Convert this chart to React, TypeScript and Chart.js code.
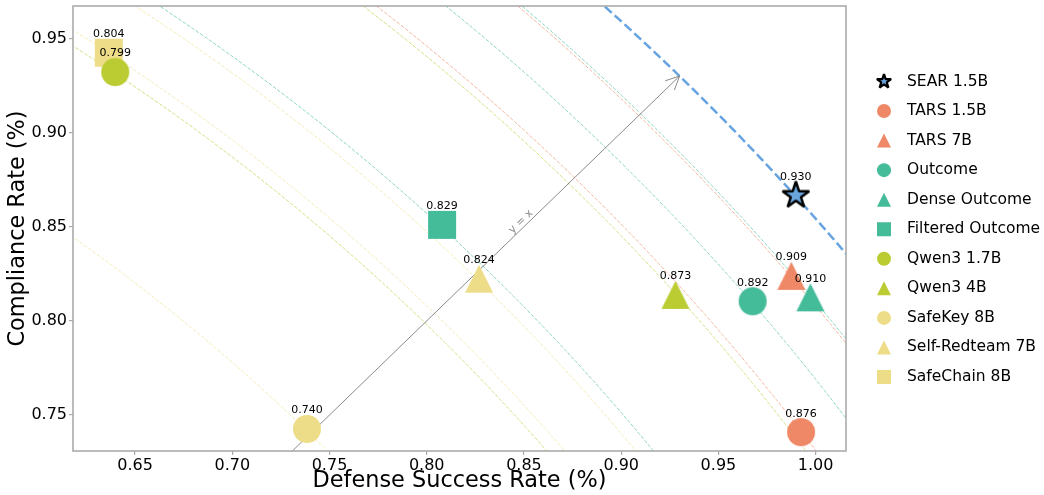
import React, { useEffect, useRef } from 'react';
import { Chart, registerables } from 'chart.js';

Chart.register(...registerables);

const modelNames = [
  'SEAR 1.5B', 'TARS 1.5B', 'TARS 7B', 'Outcome', 'Dense Outcome', 'Filtered Outcome',
  'Qwen3 1.7B', 'Qwen3 4B', 'SafeKey 8B', 'Self-Redteam 7B', 'SafeChain 8B',
];
const defenseRates = [0.9898, 0.9925, 0.9875, 0.9676, 0.9973, 0.8079, 0.6398, 0.9279, 0.7384, 0.8269, 0.6365];
const complianceRates = [0.8666, 0.7409, 0.8239, 0.8104, 0.8125, 0.851, 0.9321, 0.8138, 0.7426, 0.8224, 0.9424];
const scores = [0.930, 0.876, 0.909, 0.892, 0.910, 0.829, 0.799, 0.873, 0.740, 0.824, 0.804];
const markerShapes = ['star', 'circle', 'triangle', 'circle', 'triangle', 'square', 'circle', 'triangle', 'circle', 'triangle', 'square'];
const markerColors = ['#6AA6DE', '#EE8866', '#EE8866', '#44BB99', '#44BB99', '#44BB99', '#BBCC33', '#BBCC33', '#EEDD88', '#EEDD88', '#EEDD88'];
const xTicks = [0.65, 0.70, 0.75, 0.80, 0.85, 0.90, 0.95, 1.00];
const yTicks = [0.75, 0.80, 0.85, 0.90, 0.95];
const xRange = [0.6181, 1.0156];
const yRange = [0.7309, 0.9672];
const diagonalEnd = 0.93;

const FONT = 'DejaVu Sans';

function hexToRgba(hex: string, a: number) {
  const n = parseInt(hex.slice(1), 16);
  return `rgba(${(n >> 16) & 255},${(n >> 8) & 255},${n & 255},${a})`;
}

function drawMarker(ctx: CanvasRenderingContext2D, shape: string, cx: number, cy: number, size: number, fill: string, edgeW: number) {
  ctx.save();
  ctx.fillStyle = fill;
  ctx.beginPath();
  const h = size / 2;
  if (shape === 'circle') ctx.arc(cx, cy, h, 0, Math.PI * 2);
  else if (shape === 'square') ctx.rect(cx - h, cy - h, size, size);
  else if (shape === 'triangle') {
    ctx.moveTo(cx, cy - h);
    ctx.lineTo(cx + h, cy + h);
    ctx.lineTo(cx - h, cy + h);
    ctx.closePath();
  } else {
    const ri = h * 0.381966;
    for (let k = 0; k < 10; k++) {
      const r = k % 2 === 0 ? h : ri;
      const a = -Math.PI / 2 + (k * Math.PI) / 5;
      const px = cx + r * Math.cos(a);
      const py = cy + r * Math.sin(a);
      if (k === 0) ctx.moveTo(px, py);
      else ctx.lineTo(px, py);
    }
    ctx.closePath();
  }
  ctx.fill();
  if (shape === 'star') {
    ctx.lineWidth = edgeW;
    ctx.strokeStyle = '#000';
    ctx.lineJoin = 'bevel';
    ctx.stroke();
  }
  ctx.restore();
}

function makeImage(shape: string, size: number, fill: string, edgeW: number) {
  const c = document.createElement('canvas');
  const w = Math.ceil((size + edgeW * 2 + 4) / 2) * 2;
  c.width = w;
  c.height = w;
  const ctx = c.getContext('2d')!;
  drawMarker(ctx, shape, w / 2, w / 2, size, fill, edgeW);
  return c;
}

const overlayPlugin = {
  id: 'overlay',
  beforeDatasetsDraw(chart: any) {
    const { ctx, chartArea: ca, scales } = chart;
    const xs = scales.x;
    const ys = scales.y;
    ctx.save();
    ctx.beginPath();
    ctx.rect(ca.left, ca.top, ca.right - ca.left, ca.bottom - ca.top);
    ctx.clip();
    // iso-score curves
    const order = [...scores.keys()].filter((i) => i !== 0).concat([0]);
    for (const i of order) {
      const r2 = 2 * scores[i] * scores[i];
      ctx.beginPath();
      let started = false;
      for (let px = ca.left - 2; px <= ca.right + 2; px += 1) {
        const xv = xs.getValueForPixel(px);
        const y2 = r2 - xv * xv;
        if (y2 < 0) continue;
        const py = ys.getPixelForValue(Math.sqrt(y2));
        if (!started) { ctx.moveTo(px, py); started = true; } else ctx.lineTo(px, py);
      }
      if (i === 0) {
        ctx.strokeStyle = 'rgba(94,158,222,0.95)';
        ctx.lineWidth = 2.5;
        ctx.setLineDash([9.25, 4]);
      } else {
        ctx.strokeStyle = hexToRgba(markerColors[i], 0.6);
        ctx.lineWidth = 1;
        ctx.setLineDash([3.7, 1.6]);
      }
      ctx.stroke();
    }
    ctx.setLineDash([]);
    // y = x arrow
    const x0 = xs.getPixelForValue(0.70);
    const y0 = ys.getPixelForValue(0.70);
    const x1 = xs.getPixelForValue(diagonalEnd);
    const y1 = ys.getPixelForValue(diagonalEnd);
    ctx.strokeStyle = 'rgba(125,125,125,0.9)';
    ctx.lineWidth = 1;
    ctx.beginPath();
    ctx.moveTo(x0, y0);
    ctx.lineTo(x1, y1);
    ctx.stroke();
    const ang = Math.atan2(y0 - y1, x0 - x1);
    const hl = 15;
    const ha = 0.45;
    ctx.beginPath();
    ctx.moveTo(x1 + hl * Math.cos(ang + ha), y1 + hl * Math.sin(ang + ha));
    ctx.lineTo(x1, y1);
    ctx.lineTo(x1 + hl * Math.cos(ang - ha), y1 + hl * Math.sin(ang - ha));
    ctx.stroke();
    // y = x text
    const tp = 0.8505;
    const tx = xs.getPixelForValue(tp);
    const ty = ys.getPixelForValue(tp);
    const rot = Math.atan2(y1 - y0, x1 - x0);
    ctx.translate(tx, ty);
    ctx.rotate(rot);
    ctx.fillStyle = 'rgba(140,140,140,1)';
    ctx.font = `11px "${FONT}"`;
    ctx.textAlign = 'center';
    ctx.textBaseline = 'middle';
    ctx.fillText('y = x', 0, -5.6);
    ctx.restore();
  },
  afterDatasetsDraw(chart: any) {
    const { ctx, scales } = chart;
    ctx.save();
    ctx.fillStyle = '#000';
    ctx.font = `11px "${FONT}"`;
    ctx.textAlign = 'center';
    ctx.textBaseline = 'middle';
    for (let i = 0; i < scores.length; i++) {
      const px = scales.x.getPixelForValue(defenseRates[i]);
      const py = scales.y.getPixelForValue(complianceRates[i]);
      ctx.fillText(scores[i].toFixed(3), px, py - 18.5);
    }
    ctx.restore();
  },
  afterDraw(chart: any) {
    const { ctx, chartArea: ca } = chart;
    ctx.save();
    ctx.strokeStyle = '#aaaaaa';
    ctx.lineWidth = 1.6;
    ctx.strokeRect(ca.left, ca.top, ca.right - ca.left, ca.bottom - ca.top);
    // legend
    ctx.font = `15.5px "${FONT}"`;
    ctx.fillStyle = '#000';
    ctx.textAlign = 'left';
    ctx.textBaseline = 'middle';
    for (let i = 0; i < modelNames.length; i++) {
      const y = 81.5 + i * 29.55;
      const shape = markerShapes[i];
      drawMarker(ctx, shape, 884, y, shape === 'star' ? 15 : 14, markerColors[i], 2.2);
      ctx.fillStyle = '#000';
      ctx.fillText(modelNames[i], 907, y);
    }
    ctx.restore();
  },
};

export default function App() {
  const ref = useRef<HTMLCanvasElement | null>(null);
  useEffect(() => {
    const canvas = ref.current!;
    Chart.defaults.font.family = FONT;
    const datasets = modelNames.map((name, i) => ({
      label: name,
      data: [{ x: defenseRates[i], y: complianceRates[i] }],
      pointStyle: makeImage(markerShapes[i], 28, markerColors[i], 2.5) as any,
      pointRadius: 14,
      pointHoverRadius: 14,
      backgroundColor: markerColors[i],
      borderWidth: 0,
      showLine: false,
    }));
    const chart = new Chart(canvas, {
      type: 'scatter',
      data: { datasets },
      plugins: [overlayPlugin],
      options: {
        responsive: false,
        animation: false,
        events: [],
        layout: { autoPadding: false, padding: { top: 6, right: 198, left: 0, bottom: 0 } },
        plugins: { legend: { display: false }, tooltip: { enabled: false } },
        scales: {
          x: {
            type: 'linear',
            min: xRange[0],
            max: xRange[1],
            afterBuildTicks: (s: any) => { s.ticks = xTicks.map((v) => ({ value: v })); },
            afterFit: (s: any) => { s.height = 44; s.paddingLeft = 0; s.paddingRight = 0; },
            ticks: {
              font: { family: FONT, size: 16 },
              color: '#000',
              padding: 1,
              maxRotation: 0,
              autoSkip: false,
              callback: (v: any) => Number(v).toFixed(2),
            },
            grid: { drawOnChartArea: false, drawTicks: true, tickLength: 4, color: '#aaaaaa', lineWidth: 1.2 },
            border: { display: false },
            title: {
              display: true,
              text: 'Defense Success Rate (%)',
              color: '#000',
              font: { family: FONT, size: 22.4, lineHeight: 1 },
              padding: { top: 0, bottom: 3 },
            },
          },
          y: {
            type: 'linear',
            min: yRange[0],
            max: yRange[1],
            afterBuildTicks: (s: any) => { s.ticks = yTicks.map((v) => ({ value: v })); },
            afterFit: (s: any) => { s.width = 73; s.paddingTop = 0; s.paddingBottom = 0; },
            ticks: {
              font: { family: FONT, size: 16 },
              color: '#000',
              padding: 2,
              autoSkip: false,
              callback: (v: any) => Number(v).toFixed(2),
            },
            grid: { drawOnChartArea: false, drawTicks: true, tickLength: 4, color: '#aaaaaa', lineWidth: 1.2 },
            border: { display: false },
            title: {
              display: true,
              text: 'Compliance Rate (%)',
              color: '#000',
              font: { family: FONT, size: 22.4, lineHeight: 1 },
              padding: { top: 7, bottom: 0 },
            },
          },
        },
      } as any,
    });
    return () => chart.destroy();
  }, []);
  return (
    <div style={{ position: 'fixed', left: 0, top: 0, width: 1044, height: 495, background: '#fff' }}>
      <canvas ref={ref} width={1044} height={495} style={{ width: 1044, height: 495, display: 'block' }} />
    </div>
  );
}
